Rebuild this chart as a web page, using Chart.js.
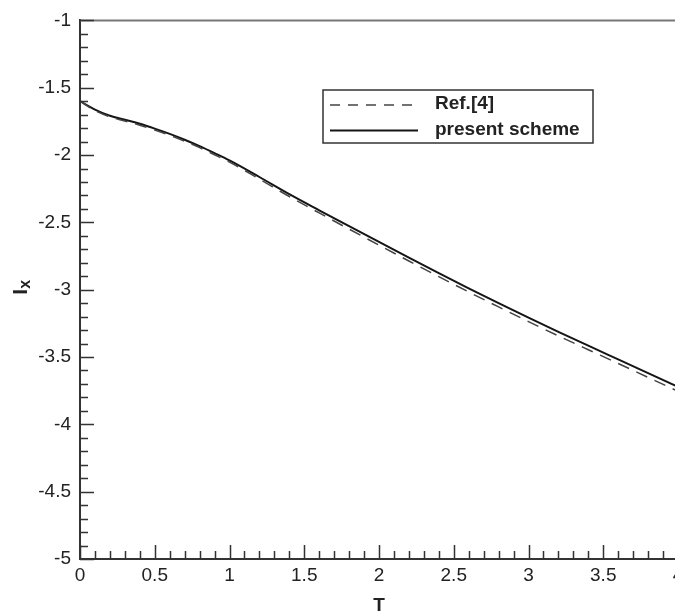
<!DOCTYPE html>
<html>
<head>
<meta charset="utf-8">
<title>Ix vs T</title>
<script src="https://cdn.jsdelivr.net/npm/chart.js@4.4.1/dist/chart.umd.min.js"></script>
<style>
  html, body { margin: 0; padding: 0; background: #fff; overflow: hidden; }
  #wrap { position: relative; width: 700px; height: 615px; }
</style>
</head>
<body>
<div id="wrap"><canvas id="ixChart"></canvas></div>
<script>
/* Ix against T: reference solution vs. present scheme */

const tValues = [0, 0.1, 0.2, 0.3, 0.4, 0.5, 0.6, 0.7, 0.8, 0.9, 1.0, 1.2, 1.4, 1.6, 1.8,
                 2.0, 2.2, 2.4, 2.6, 2.8, 3.0, 3.2, 3.4, 3.6, 3.8, 4.0];

const presentScheme = [-1.600, -1.662, -1.708, -1.738, -1.768, -1.804, -1.843, -1.886, -1.934, -1.986,
                       -2.040, -2.163, -2.290, -2.410, -2.528, -2.645, -2.762, -2.877, -2.990, -3.100,
                       -3.208, -3.313, -3.416, -3.518, -3.620, -3.722];

const refFour = [-1.600, -1.670, -1.716, -1.747, -1.778, -1.814, -1.853, -1.897, -1.945, -1.998,
                 -2.052, -2.178, -2.308, -2.430, -2.550, -2.669, -2.787, -2.903, -3.017, -3.128,
                 -3.237, -3.343, -3.446, -3.548, -3.651, -3.754];

const seriesNames = ['Ref.[4]', 'present scheme'];

const xTickStep = 0.5;
const yTickStep = 0.5;

const FONT = "'Liberation Sans', Arial, Helvetica, sans-serif";
const INK = '#222';

function toPoints(xs, ys) { return xs.map((x, i) => ({ x: x, y: ys[i] })); }
function fmt(v) { return String(Number(v.toFixed(1))); }

// inward tick marks (major every 0.5, minor every 0.1) + top frame line
const frameTicks = {
    id: 'frameTicks',
    afterDraw(chart) {
        const { ctx, chartArea, scales } = chart;
        const xs = scales.x, ys = scales.y;
        ctx.save();
        ctx.strokeStyle = '#777';
        ctx.lineWidth = 2;
        ctx.beginPath();
        ctx.moveTo(chartArea.left, chartArea.top);
        ctx.lineTo(chartArea.right, chartArea.top);
        ctx.stroke();

        ctx.strokeStyle = '#333';
        ctx.lineWidth = 1.5;
        ctx.beginPath();
        for (let i = 0; i <= 40; i++) {
            const px = Math.round(xs.getPixelForValue(xs.min + i / 10)) + 0.5;
            const len = i % 5 === 0 ? 14 : 8;
            ctx.moveTo(px, chartArea.bottom);
            ctx.lineTo(px, chartArea.bottom - len);
        }
        for (let i = 0; i <= 40; i++) {
            const py = Math.round(ys.getPixelForValue(ys.min + i / 10)) + 0.5;
            const len = i % 5 === 0 ? 14 : 8;
            ctx.moveTo(chartArea.left, py);
            ctx.lineTo(chartArea.left + len, py);
        }
        ctx.stroke();
        ctx.restore();
    }
};

// y title "I" with subscript "x", rotated
const yTitle = {
    id: 'yTitle',
    afterDraw(chart) {
        const { ctx, chartArea } = chart;
        const cy = (chartArea.top + chartArea.bottom) / 2 - 3;
        ctx.save();
        ctx.translate(27, cy);
        ctx.rotate(-Math.PI / 2);
        ctx.fillStyle = INK;
        ctx.textBaseline = 'alphabetic';
        ctx.textAlign = 'left';
        ctx.font = 'bold 21px ' + FONT;
        ctx.fillText('I', -8, 0);
        ctx.font = 'bold 16px ' + FONT;
        ctx.fillText('x', -2, 3);
        ctx.restore();
    }
};

// boxed legend inside the plot
const boxLegend = {
    id: 'boxLegend',
    afterDraw(chart) {
        const { ctx } = chart;
        const bx = 323, by = 90, bw = 270, bh = 53;
        ctx.save();
        ctx.fillStyle = '#fff';
        ctx.fillRect(bx, by, bw, bh);
        ctx.strokeStyle = '#333';
        ctx.lineWidth = 1.5;
        ctx.strokeRect(bx, by, bw, bh);
        chart.data.datasets.forEach((ds, i) => {
            const ly = by + 15 + i * 25.5;
            ctx.strokeStyle = ds.borderColor;
            ctx.lineWidth = ds.borderWidth;
            ctx.setLineDash(i === 0 ? [10, 8] : []);
            ctx.beginPath();
            ctx.moveTo(bx + 7, ly);
            ctx.lineTo(bx + 95, ly);
            ctx.stroke();
            ctx.setLineDash([]);
            ctx.fillStyle = INK;
            ctx.font = 'bold 19px ' + FONT;
            ctx.textBaseline = 'middle';
            ctx.fillText(ds.label, bx + 112, ly - 1);
        });
        ctx.restore();
    }
};

new Chart(document.getElementById('ixChart'), {
    type: 'line',
    data: {
        datasets: [
            {
                label: seriesNames[0],
                data: toPoints(tValues, refFour),
                borderColor: '#444',
                borderWidth: 1.5,
                borderDash: [12, 8],
                pointRadius: 0,
                tension: 0.4,
                cubicInterpolationMode: 'monotone',
                fill: false
            },
            {
                label: seriesNames[1],
                data: toPoints(tValues, presentScheme),
                borderColor: '#151515',
                borderWidth: 2,
                pointRadius: 0,
                tension: 0.4,
                cubicInterpolationMode: 'monotone',
                fill: false
            }
        ]
    },
    options: {
        responsive: true,
        maintainAspectRatio: false,
        animation: false,
        layout: { padding: { top: 14, right: 22, bottom: 0, left: 0 } },
        plugins: {
            legend: { display: false },
            tooltip: { enabled: false }
        },
        scales: {
            x: {
                type: 'linear',
                min: 0,
                max: 4,
                grid: { display: false, drawTicks: false },
                border: { display: true, color: '#333', width: 2 },
                ticks: { stepSize: xTickStep, padding: 5, color: INK, font: { family: FONT, size: 19 }, maxRotation: 0, callback: fmt },
                title: { display: true, text: 'T', color: INK, font: { family: FONT, size: 19, weight: 'bold', lineHeight: 1.0 }, padding: { top: 0, bottom: 0 } },
                afterFit: s => { s.height = 56; }
            },
            y: {
                type: 'linear',
                min: -5,
                max: -1,
                grid: { display: false, drawTicks: false },
                border: { display: true, color: '#333', width: 2 },
                ticks: { stepSize: yTickStep, padding: 9, color: INK, font: { family: FONT, size: 19 }, callback: fmt },
                afterFit: s => { s.width = 80; }
            }
        }
    },
    plugins: [frameTicks, yTitle, boxLegend]
});
</script>
</body>
</html>
